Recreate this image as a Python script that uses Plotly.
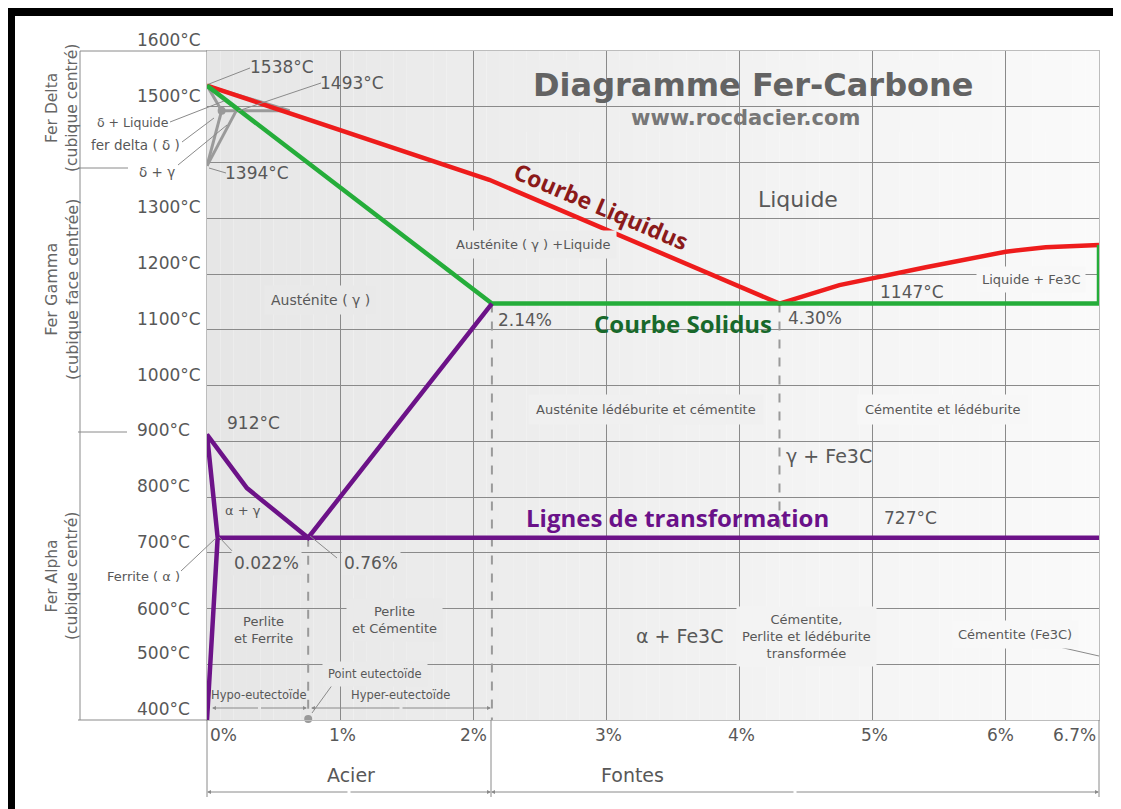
import plotly.graph_objects as go

# ------------------------------------------------------------------ data
carbon_ticks = [0, 1, 2, 3, 4, 5, 6, 6.7]
carbon_labels = ["0%", "1%", "2%", "3%", "4%", "5%", "6%", "6.7%"]
temp_ticks = [1600, 1500, 1300, 1200, 1100, 1000, 900, 800, 700, 600, 500, 400]
temp_labels = [f"{t}°C" for t in temp_ticks]
grid_c = [1, 2, 3, 4, 5, 6]
grid_t = [500, 600, 700, 800, 900, 1000, 1100, 1200, 1300, 1400, 1500]

liquidus_c = [0, 2.12, 4.3, 4.75, 5.4, 6.0, 6.3, 6.7]
liquidus_t = [1538, 1369, 1147, 1180, 1212, 1240, 1248, 1252]

solidus_c = [0, 2.14, 6.7, 6.7]
solidus_t = [1538, 1147, 1147, 1252]

transform_c = [0, 0.08, 0, 0.30, 0.76, 2.14]
transform_t = [400, 727, 912, 816, 727, 1147]
eutectoid_c = [0.08, 6.7]
eutectoid_t = [727, 727]

delta_c = [0, 0.62, None, 0, 0.11, None, 0.11, 0.62, None, 0, 0.11, None, 0, 0.22]
delta_t = [1538, 1493, None, 1538, 1493, None, 1493, 1493, None, 1394, 1493, None, 1394, 1493]

dash_c = [0.76, 0.76, None, 2.14, 2.14, None, 4.3, 4.3]
dash_t = [727, 400, None, 1147, 400, None, 1147, 727]

point_c = [0.11, 0.76]
point_t = [1493, 402]

# ------------------------------------------------------------------ geometry helpers (layout only)
# coordinates below are window pixels; the page body adds an 8px margin
PAGE = 8
W, H = 1121 - PAGE, 809 - PAGE
X0, X1, Y0, Y1 = 207, 1099, 51, 720
CMAX, TMIN, TMAX = 6.7, 400, 1600


def fx(p):
    return (p - X0) / (X1 - X0)


def fy(p):
    return (Y1 - p) / (Y1 - Y0)


def shade_val(frac):
    v = int(round(230 + (250 - 230) * min(max(frac, 0), 1)))
    return f"rgb({v},{v},{v})"


GRAY = "#585858"
FONT = "DejaVu Sans"
BOLDFONT = "Open Sans"

fig = go.Figure()

fig.add_trace(go.Scatter(x=delta_c, y=delta_t, mode="lines",
                         line=dict(color="#9a9a9a", width=3), hoverinfo="skip"))
fig.add_trace(go.Scatter(x=dash_c, y=dash_t, mode="lines",
                         line=dict(color="#9a9a9a", width=2, dash="dash"), hoverinfo="skip"))
fig.add_trace(go.Scatter(x=liquidus_c, y=liquidus_t, mode="lines",
                         line=dict(color="#ee1c1c", width=4.5), hoverinfo="skip"))
fig.add_trace(go.Scatter(x=solidus_c, y=solidus_t, mode="lines",
                         line=dict(color="#25ad3a", width=4.5), hoverinfo="skip"))
fig.add_trace(go.Scatter(x=transform_c, y=transform_t, mode="lines",
                         line=dict(color="#6c1288", width=4.5), hoverinfo="skip"))
fig.add_trace(go.Scatter(x=eutectoid_c, y=eutectoid_t, mode="lines",
                         line=dict(color="#6c1288", width=4.5), hoverinfo="skip"))
fig.add_trace(go.Scatter(x=point_c, y=point_t, mode="markers",
                         marker=dict(color="#9a9a9a", size=8), hoverinfo="skip", cliponaxis=False))

shapes = []
N = 67
for i in range(N):
    shapes.append(dict(type="rect", xref="x", yref="paper", x0=i * CMAX / N, x1=(i + 1) * CMAX / N,
                       y0=0, y1=1, fillcolor=shade_val((i + 0.5) / N), line=dict(width=0), layer="below"))


def mask(p0, p1, q0, q1):
    d0 = (p0 - X0) / (X1 - X0) * CMAX
    d1 = (p1 - X0) / (X1 - X0) * CMAX
    for i in range(N):
        a, b = i * CMAX / N, (i + 1) * CMAX / N
        lo, hi = max(a, d0), min(b, d1)
        if hi > lo:
            shapes.append(dict(type="rect", xref="x", yref="paper", x0=lo, x1=hi,
                               y0=fy(q1), y1=fy(q0), fillcolor=shade_val((i + 0.5) / N),
                               line=dict(width=0), layer="between"))


mask(518, 1065, 60, 132)


def seg(p0, q0, p1, q1, color="#8a8a8a", width=1):
    shapes.append(dict(type="line", xref="paper", yref="paper", x0=fx(p0), y0=fy(q0),
                       x1=fx(p1), y1=fy(q1), line=dict(color=color, width=width), layer="above"))


# leader lines
seg(209, 84, 250, 68)
seg(238, 111, 321, 83)
seg(170, 122, 224, 101)
seg(182, 142, 214, 118)
seg(178, 165, 227, 125)
seg(209, 168, 226, 173)
seg(181, 571, 216, 538)
seg(219, 537, 234, 553)
seg(310, 536, 337, 558)
seg(333, 684, 312, 713)
seg(1046, 644, 1099, 656)
# left ruler
seg(80, 51, 80, 720)
seg(80, 51, 207, 51)
seg(78, 720, 207, 720)
seg(78, 168, 128, 168)
seg(78, 432, 127, 432)
# bottom separators
seg(207, 720, 207, 797)
seg(491, 720, 491, 797)
seg(1099, 720, 1099, 797)
# black frame
shapes.append(dict(type="rect", xref="paper", yref="paper", x0=fx(8), x1=fx(1130), y0=fy(16), y1=fy(8),
                   fillcolor="black", line=dict(width=0), layer="above"))
shapes.append(dict(type="rect", xref="paper", yref="paper", x0=fx(8), x1=fx(15), y0=fy(820), y1=fy(8),
                   fillcolor="black", line=dict(width=0), layer="above"))

annotations = []


def ann(text, p, q, size=13, color=GRAY, bold=False, family=FONT, xanchor="center",
        yanchor="middle", bg=False, pad=1, angle=0, xshift=0, yshift=0):
    d = dict(text=text, x=fx(p), y=fy(q), xref="paper", yref="paper", showarrow=False,
             xanchor=xanchor, yanchor=yanchor, textangle=angle, align="center",
             xshift=xshift, yshift=yshift,
             font=dict(family=family, size=size, color=color, weight=700 if bold else 400))
    if bg:
        d.update(bgcolor=shade_val(fx(p)), borderpad=pad)
    annotations.append(d)


for t, lab in zip(temp_ticks, temp_labels):
    q = Y1 - (t - TMIN) / (TMAX - TMIN) * (Y1 - Y0)
    ann(lab, 135, q, size=17, xanchor="left", yshift=(0 if t == 600 else 11))

xstyle = {"0%": ("left", 1), "2%": ("right", 16), "6%": ("center", -5), "6.7%": ("right", -1)}
for c, lab in zip(carbon_ticks, carbon_labels):
    p = X0 + c / CMAX * (X1 - X0)
    xa, xs = xstyle.get(lab, ("center", 2))
    ann(lab, p, 735, size=17, xanchor=xa, xshift=xs)

ann("Fer Delta<br>(cubique centré)", 62, 108, size=15.5, color="#666666", angle=-90)
ann("Fer Gamma<br>(cubique face centrée)", 62, 290, size=16, color="#666666", angle=-90)
ann("Fer Alpha<br>(cubique centré)", 62, 576, size=15.5, color="#666666", angle=-90)

ann("1538°C", 282, 67, size=17)
ann("1493°C", 352, 83, size=17)
ann("δ + Liquide", 133, 122, size=12.5)
ann("fer delta ( δ )", 135, 145, size=13.5)
ann("δ + γ", 157, 172, size=13.5)
ann("1394°C", 257, 173, size=17)

ann("Diagramme Fer-Carbone", 753, 85, size=32, color="#636363", bold=True, family=FONT)
ann("www.rocdacier.com", 745, 118, size=21, color="#777777", bold=True, family=FONT)

ann("Liquide", 798, 199, size=22)
ann("Courbe Liquidus", 601, 206, size=23, color="#8b1a1a", bold=True, family=BOLDFONT, angle=23)
ann("Austénite ( γ ) +Liquide", 533, 244, size=13, bg=True, pad=6)
ann("Austénite ( γ )", 320, 300, size=14, bg=True, pad=6)
ann("Liquide + Fe3C", 1031, 279, size=13, bg=True, pad=5)
ann("1147°C", 912, 292, size=17)
ann("2.14%", 525, 320, size=17)
ann("Courbe Solidus", 683, 324, size=24, color="#18692b", bold=True, family=BOLDFONT)
ann("4.30%", 815, 318, size=17)
ann("Austénite lédéburite et cémentite", 646, 409, size=13, bg=True, pad=7)
ann("Cémentite et lédéburite", 943, 410, size=13, bg=True, pad=7)
ann("γ + Fe3C", 829, 456, size=19)
ann("912°C", 253, 423, size=17)
ann("α + γ", 243, 510, size=13)
ann("Lignes de transformation", 677, 518, size=24, color="#6a1189", bold=True, family=BOLDFONT)
ann("727°C", 910, 518, size=17)
ann("0.022%", 266, 563, size=17, bg=True, pad=2)
ann("0.76%", 371, 563, size=17, bg=True, pad=2)
ann("Ferrite ( α )", 143, 576, size=13)
ann("Perlite<br>et Ferrite", 263, 630, size=13)
ann("Perlite<br>et Cémentite", 394, 620, size=13, bg=True, pad=5)
ann("α + Fe3C", 679, 636, size=19)
ann("Cémentite,<br>Perlite et lédéburite<br>transformée", 806, 636, size=13, bg=True, pad=5)
ann("Cémentite (Fe3C)", 1015, 634, size=13, bg=True, pad=6)
ann("Point eutectoïde", 375, 674, size=11.5, bg=True, pad=5)
ann("Hypo-eutectoïde", 259, 695, size=11.5)
ann("Hyper-eutectoïde", 400, 695, size=11.5)
ann("Acier", 351, 775, size=19)
ann("Fontes", 632, 775, size=19)


def arrow(p_head, p_tail, q):
    annotations.append(dict(x=fx(p_head), y=fy(q), xref="paper", yref="paper", text="",
                            showarrow=True, axref="pixel", ayref="pixel", ax=p_tail - p_head, ay=0,
                            arrowhead=2, arrowsize=0.8, arrowwidth=1, arrowcolor="#8a8a8a", standoff=0))


for a, b, q in [(207, 491, 792), (491, 1099, 792), (212, 307, 708), (311, 491, 708)]:
    m = (a + b) / 2
    arrow(a, m, q)
    arrow(b, m, q)

fig.update_layout(
    width=W, height=H,
    margin=dict(l=X0 - PAGE, r=1121 - X1, t=Y0 - PAGE, b=809 - Y1),
    paper_bgcolor="white", plot_bgcolor="rgba(0,0,0,0)",
    showlegend=False,
    shapes=shapes, annotations=annotations,
    xaxis=dict(range=[0, CMAX], tickvals=grid_c, showticklabels=False, ticks="",
               showgrid=True, gridcolor="#8a8a8a", gridwidth=1, zeroline=False,
               showline=True, mirror=True, linecolor="#bdbdbd", linewidth=1, fixedrange=True),
    yaxis=dict(range=[TMIN, TMAX], tickvals=grid_t, showticklabels=False, ticks="",
               showgrid=True, gridcolor="#8a8a8a", gridwidth=1, zeroline=False,
               showline=True, mirror=True, linecolor="#bdbdbd", linewidth=1, fixedrange=True),
)

fig.write_html("out.html")
